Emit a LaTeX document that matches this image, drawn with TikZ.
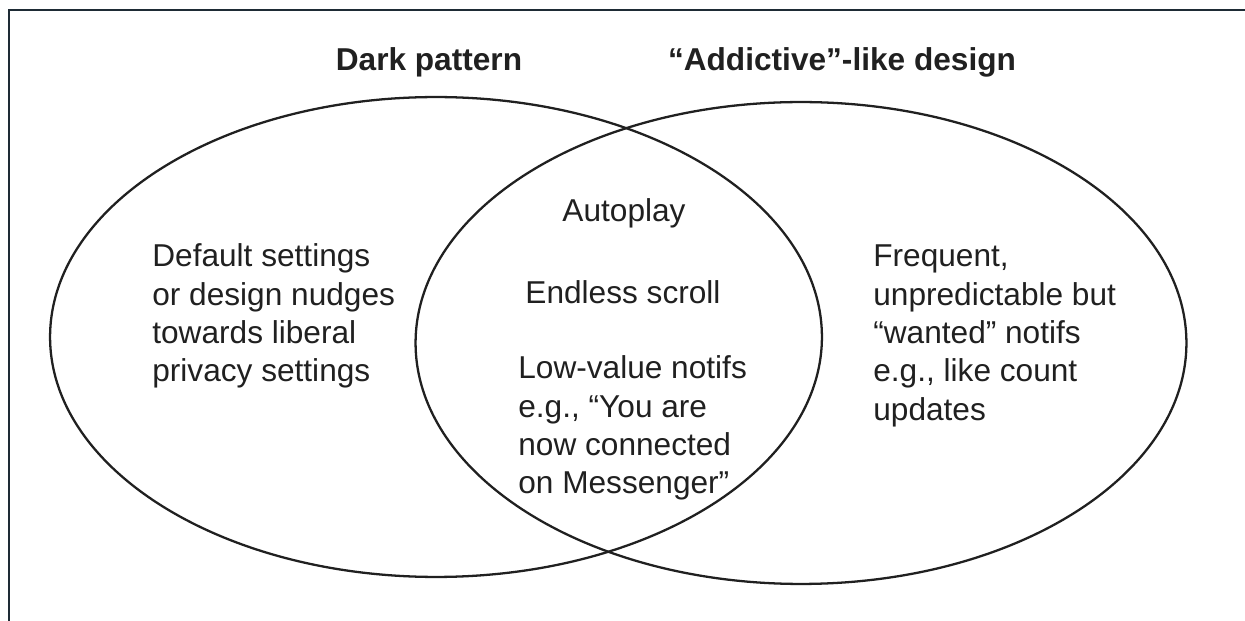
\documentclass[tikz,border=0pt]{standalone}
\usepackage{fontspec}
\setmainfont{Liberation Sans}
\usepackage{xcolor}
\usetikzlibrary{shapes.geometric}
\definecolor{frameslate}{HTML}{1E2B35}
\definecolor{inkgray}{HTML}{202020}
\tikzset{
  setnode/.style={ellipse,draw=inkgray,line width=1.3pt,inner sep=0pt},
  ttlnode/.style={font=\fontsize{18}{21.8}\selectfont\bfseries,text=inkgray,inner sep=0pt},
  txtnode/.style={font=\fontsize{18}{21.8}\selectfont,text=inkgray,align=left,inner sep=0pt},
}

\begin{document}
\begin{tikzpicture}[x=0.02cm,y=-0.02cm]
  \useasboundingbox (0,0) rectangle (1245,621);
  \draw[frameslate,line width=1.2pt] (9,621) -- (9,10) -- (1245,10);
  \node[setnode,minimum width=15.44cm,minimum height=9.6cm] (sDark) at (436,337) {};
  \node[setnode,minimum width=15.42cm,minimum height=9.64cm] (sAdd) at (801,343) {};
  \node[ttlnode] (tDark) at (429,62) {Dark pattern};
  \node[ttlnode] (tAdd) at (842,62) {“Addictive”-like design};
  \node[txtnode,anchor=west] (nDefault) at (152,316) {Default settings\\or design nudges\\towards liberal\\privacy settings};
  \node[txtnode] (nAuto) at (624,213) {Autoplay};
  \node[txtnode] (nScroll) at (623,292) {Endless scroll};
  \node[txtnode,anchor=west] (nLow) at (518,428) {Low-value notifs\\e.g., “You are\\now connected\\on Messenger”};
  \node[txtnode,anchor=west] (nFreq) at (873,336) {Frequent,\\unpredictable but\\“wanted” notifs\\e.g., like count\\updates};
\end{tikzpicture}
\end{document}
